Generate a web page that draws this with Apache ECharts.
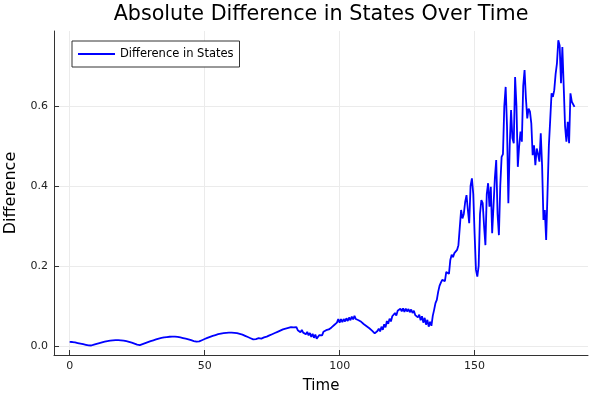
<!DOCTYPE html>
<html>
<head>
<meta charset="utf-8">
<script src="https://cdn.jsdelivr.net/npm/echarts@6/dist/echarts.min.js"></script>
<style>html,body{margin:0;padding:0;background:#fff}#c{width:600px;height:400px}</style>
</head>
<body>
<div id="c"></div>
<script>
const titleText = 'Absolute Difference in States Over Time';
const seriesName = 'Difference in States';
const xTicks = [0, 50, 100, 150];
const yTicks = [0, 0.2, 0.4, 0.6];

const time = [
  0,1,2,3,4,5,6,7,7.5,8,9,10,11,12,13,14,15,16,17,18,19,20,21,22,23,24,25,26,
  27,28,29,30,31,32,33,34,35,36,37,38,39,40,41,42,43,44,45,46,47,47.5,
  48,49,50,51,52,53,54,55,56,57,58,59,60,61,62,63,64,65,66,67,68,
  69,70,71,72,73,74,75,76,77,78,79,80,81,82,83,
  84,84.5,85,85.5,86,86.5,87,87.5,88,88.5,89,89.5,90,90.5,91,91.5,92,92.5,
  93,93.5,94,94.5,95,95.5,96,96.5,97,97.5,98,98.5,99,99.5,100,100.5,101,101.5,
  102,102.5,103,103.5,104,104.5,105,105.5,106,106.5,107,107.5,108,108.5,109,109.5,
  110,110.5,111,111.5,112,112.5,113,113.5,114,114.5,115,115.5,116,116.5,117,117.5,
  118,118.5,119,119.5,120,120.5,121,121.5,122,122.5,123,123.5,124,124.5,125,125.5,
  126,126.5,127,127.5,128,128.5,129,129.5,130,130.5,131,131.5,132,
  132.5,133,133.5,134,134.5,135,135.5,136,136.5,137,137.5,138,138.5,139,139.5,140,
  140.5,141,141.5,142,142.5,143,143.5,144,144.5,145,145.5,146,146.5,147,147.5,148,
  148.5,149,149.5,150,150.5,151,151.5,152,152.5,153,153.5,154,154.5,155,155.5,156,
  156.5,157,157.5,158,158.5,159,159.5,160,160.5,161,161.5,162,162.5,163,163.5,164,
  164.5,165,165.5,166,166.5,167,167.5,168,168.5,169,169.5,170,170.5,171,171.5,172,
  172.5,173,173.5,174,174.5,175,175.5,176,176.5,177,177.5,178,178.5,179,179.5,180,
  180.5,181,181.5,182,182.5,183,183.5,184,184.5,185,185.5,186,186.5,187
];
const difference = [
  0.010,0.0095,0.0085,0.007,0.0055,0.004,0.0025,0.001,0.000,0.0008,0.003,0.005,0.007,0.0088,0.0105,0.012,0.013,0.0137,0.014,0.014,0.0137,0.013,0.0115,0.0098,0.0078,0.0055,0.003,0.0015,
  0.004,0.0065,0.009,0.0115,0.0138,0.016,0.018,0.0198,0.021,0.022,0.0227,0.023,0.0228,0.0222,0.021,0.0195,0.0178,0.016,0.014,0.012,0.0105,0.0098,
  0.011,0.014,0.017,0.0198,0.0225,0.025,0.027,0.029,0.0305,0.0318,0.0326,0.033,0.033,0.0325,0.0315,0.030,0.028,0.025,0.022,0.019,0.016,
  0.017,0.019,0.018,0.021,0.023,0.026,0.029,0.032,0.035,0.038,0.041,0.043,0.045,0.047,0.046,
  0.047,0.039,0.043,0.034,0.040,0.033,0.038,0.029,0.035,0.026,0.032,0.022,0.030,0.020,0.028,0.018,0.023,0.027,
  0.031,0.026,0.035,0.030,0.039,0.034,0.041,0.037,0.046,0.045,0.052,0.052,0.058,0.067,0.058,0.067,0.059,0.067,
  0.061,0.069,0.062,0.071,0.064,0.073,0.066,0.075,0.067,0.072,0.064,0.068,0.060,0.062,0.054,0.056,
  0.049,0.051,0.044,0.046,0.038,0.037,0.031,0.028,0.037,0.043,0.036,0.048,0.040,0.054,0.046,0.062,
  0.055,0.068,0.061,0.074,0.072,0.082,0.076,0.088,0.083,0.093,0.086,0.094,0.085,0.093,0.086,0.092,
  0.084,0.091,0.082,0.088,0.077,0.082,0.071,0.078,0.064,0.074,0.058,0.070,0.053,
  0.065,0.048,0.060,0.050,0.075,0.090,0.107,0.115,0.135,0.150,0.158,0.165,0.170,0.162,0.185,0.190,
  0.180,0.215,0.228,0.222,0.232,0.228,0.240,0.252,0.248,0.340,0.319,0.330,0.360,0.377,0.340,0.307,
  0.400,0.419,0.380,0.280,0.190,0.173,0.200,0.330,0.365,0.357,0.300,0.252,0.380,0.407,0.348,0.398,
  0.282,0.350,0.420,0.465,0.330,0.277,0.400,0.473,0.480,0.600,0.648,0.550,0.357,0.500,0.590,0.520,
  0.507,0.673,0.600,0.448,0.500,0.536,0.511,0.650,0.690,0.620,0.569,0.594,0.586,0.557,0.477,0.502,
  0.452,0.494,0.480,0.461,0.532,0.450,0.315,0.340,0.265,0.382,0.500,0.565,0.632,0.623,0.640,0.680,
  0.707,0.765,0.752,0.657,0.748,0.650,0.550,0.511,0.561,0.507,0.632,0.611,0.615,0.598
];

const points = time.map((t, i) => [t, difference[i]]);
const font = 'DejaVu Sans';
const chart = echarts.init(document.getElementById('c'), null, {renderer: 'canvas'});
chart.setOption({
  animation: false,
  backgroundColor: '#ffffff',
  title: {
    text: titleText, left: 316, top: -1, textAlign: 'center',
    textStyle: {fontFamily: font, fontSize: 20.7, fontWeight: 'normal', color: '#000'}
  },
  legend: {
    data: [seriesName], left: 72, top: 41, orient: 'vertical',
    icon: 'rect',
    padding: [6, 6, 6, 6], itemWidth: 37, itemHeight: 2, itemGap: 0,
    borderColor: '#333', borderWidth: 1, borderRadius: 0, backgroundColor: '#fff',
    textStyle: {fontFamily: font, fontSize: 11.5, color: '#000', lineHeight: 14}
  },
  grid: {left: 54, right: 12, top: 31, bottom: 45, containLabel: false, outerBoundsMode: 'none'},
  xAxis: {
    type: 'value', min: -5.8, max: 192,
    name: 'Time', nameLocation: 'middle', nameGap: 24,
    nameTextStyle: {fontFamily: font, fontSize: 15, color: '#000'},
    axisLine: {show: true, onZero: false, lineStyle: {color: '#333', width: 1}},
    axisTick: {show: true, inside: true, length: 5, customValues: xTicks, lineStyle: {color: '#333'}},
    axisLabel: {customValues: xTicks, margin: 6, fontFamily: font, fontSize: 11, color: '#222'},
    splitLine: {show: true, lineStyle: {color: '#ebebeb', width: 1}}
  },
  yAxis: {
    type: 'value', min: -0.023, max: 0.788,
    name: 'Difference', nameLocation: 'middle', nameGap: 35,
    nameTextStyle: {fontFamily: font, fontSize: 16, color: '#000'},
    axisLine: {show: true, onZero: false, lineStyle: {color: '#333', width: 1}},
    axisTick: {show: true, inside: true, length: 5, customValues: yTicks, lineStyle: {color: '#333'}},
    axisLabel: {customValues: yTicks, margin: 6, fontFamily: font, fontSize: 11, color: '#222',
      formatter: v => v.toFixed(1)},
    splitLine: {show: true, lineStyle: {color: '#ebebeb', width: 1}}
  },
  series: [{
    name: seriesName, type: 'line', data: points, showSymbol: false, symbol: 'none',
    lineStyle: {color: '#0000ff', width: 1.8}, itemStyle: {color: '#0000ff'}
  }]
});
</script>
</body>
</html>
